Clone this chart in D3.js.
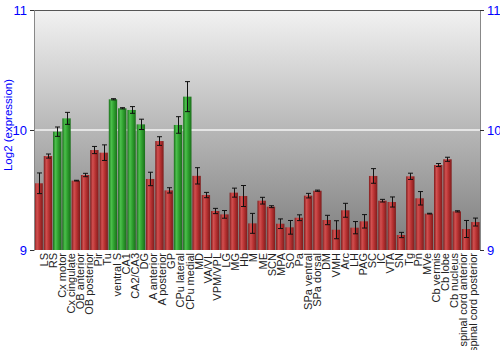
<!DOCTYPE html>
<html><head><meta charset="utf-8">
<script src="https://cdn.jsdelivr.net/npm/d3@7"></script>
<style>body{margin:0;background:#fff;}svg{display:block;}</style>
</head><body><svg id="c" width="500" height="350"></svg>
<script>
const categories = ["LS","RS","Cx motor","Cx cingulate","OB anterior","OB posterior","Pir","Tu","ventral S","CA1","CA2/CA3","DG","A anterior","A posterior","GP","CPu lateral","CPu medial","MD","VA/VL","VPM/VPL","LG","MG","Hb","M","ME","SCN","MPA","SO","Pa","SPa ventral","SPa dorsal","DM","VMH","Arc","LH","PAG","SC","IC","VTA","SN","Tg","Pn","MVe","Cb vermis","Cb lobe","Cb nucleus","spinal cord anterior","spinal cord posterior"];
const values = [9.556,9.783,9.986,10.097,9.578,9.625,9.833,9.811,10.256,10.181,10.167,10.047,9.592,9.908,9.497,10.042,10.278,9.618,9.458,9.325,9.297,9.478,9.45,9.222,9.411,9.361,9.219,9.189,9.269,9.453,9.494,9.25,9.169,9.331,9.186,9.239,9.617,9.411,9.4,9.125,9.614,9.431,9.303,9.708,9.756,9.322,9.175,9.233];
const errors = [0.086,0.017,0.039,0.05,0.003,0.014,0.03,0.065,0.005,0.005,0.028,0.043,0.056,0.036,0.022,0.069,0.125,0.068,0.022,0.022,0.032,0.0375,0.0875,0.083,0.028,0.008,0.04,0.057,0.024,0.019,0.005,0.039,0.075,0.058,0.051,0.056,0.061,0.011,0.042,0.022,0.026,0.056,0.003,0.0125,0.017,0.005,0.071,0.033];
const highlighted = ["Cx motor","Cx cingulate","ventral S","CA1","CA2/CA3","DG","CPu lateral","CPu medial"];
const yTicks = [9,10,11];
const yLabel = "Log2 (expression)";

const svg = d3.select("#c");
const L=34,R=480,T=10,B=250;
const x = d3.scaleBand().domain(categories).range([L,R]).paddingInner(0.1).paddingOuter(0.05);
const xl = d3.scalePoint().domain(categories).range([47.5,476.5]);
const y = d3.scaleLinear().domain([9,11]).range([B,T]);

const defs = svg.append("defs");
const bg = defs.append("linearGradient").attr("id","bg").attr("x1",0).attr("y1",0).attr("x2",0).attr("y2",1);
bg.append("stop").attr("offset","0%").attr("stop-color","#f2f2f2");
bg.append("stop").attr("offset","100%").attr("stop-color","#7c7c7c");
function barGrad(id, dark, mid, light){
  const g = defs.append("linearGradient").attr("id",id).attr("x1",0).attr("y1",0).attr("x2",1).attr("y2",0);
  g.append("stop").attr("offset","0%").attr("stop-color",dark);
  g.append("stop").attr("offset","30%").attr("stop-color",light);
  g.append("stop").attr("offset","60%").attr("stop-color",mid);
  g.append("stop").attr("offset","100%").attr("stop-color",dark);
}
barGrad("red","#7e1c1c","#b83232","#d25050");
barGrad("green","#1a6e1a","#2fa02f","#4cc04c");

svg.append("rect").attr("x",L).attr("y",T).attr("width",R-L).attr("height",B-T).attr("fill","url(#bg)");
svg.append("line").attr("x1",L).attr("x2",R).attr("y1",y(10)).attr("y2",y(10)).attr("stroke","#f4f4f4").attr("stroke-width",1.5);

svg.append("g").selectAll("rect").data(categories).join("rect")
  .attr("x",d=>x(d)).attr("width",x.bandwidth())
  .attr("y",(d,i)=>y(values[i])).attr("height",(d,i)=>B-y(values[i]))
  .attr("fill",d=>highlighted.includes(d)?"url(#green)":"url(#red)");

const eg = svg.append("g").attr("stroke","#111").attr("stroke-width",1);
categories.forEach((d,i)=>{
  const cx = Math.round(x(d)+x.bandwidth()/2)+0.5;
  const y1 = y(values[i]+errors[i]), y2 = y(values[i]-errors[i]);
  eg.append("line").attr("x1",cx).attr("x2",cx).attr("y1",y1).attr("y2",y2);
  eg.append("line").attr("x1",cx-2.5).attr("x2",cx+2.5).attr("y1",y1).attr("y2",y1);
  eg.append("line").attr("x1",cx-2.5).attr("x2",cx+2.5).attr("y1",y2).attr("y2",y2);
});

// frame
svg.append("line").attr("x1",L).attr("x2",R).attr("y1",T+0.5).attr("y2",T+0.5).attr("stroke","#555");
const axL = svg.append("g").attr("transform",`translate(${L},0)`).call(d3.axisLeft(y).tickValues(yTicks).tickSize(4).tickFormat(d3.format("d")));
const axR = svg.append("g").attr("transform",`translate(${R},0)`).call(d3.axisRight(y).tickValues(yTicks).tickSize(4).tickFormat(d3.format("d")));
[axL,axR].forEach(a=>{
  a.select(".domain").attr("stroke","#888");
  a.selectAll(".tick line").attr("stroke","#333");
  a.selectAll("text").attr("fill","#0000ff").attr("font-family","Liberation Sans, Arial, sans-serif").attr("font-size",13);
});

svg.append("g").selectAll("text").data(categories).join("text")
  .attr("transform",d=>`translate(${xl(d)},253) rotate(-90)`)
  .attr("text-anchor","end").attr("font-family","Liberation Sans, Arial, sans-serif")
  .attr("font-size",11).attr("fill","#222").text(d=>d);

svg.append("text").attr("transform",`translate(12,${(T+B)/2-5}) rotate(-90)`)
  .attr("text-anchor","middle").attr("font-family","Liberation Sans, Arial, sans-serif")
  .attr("font-size",11.5).attr("fill","#0000ff").text(yLabel);
</script></body></html>
